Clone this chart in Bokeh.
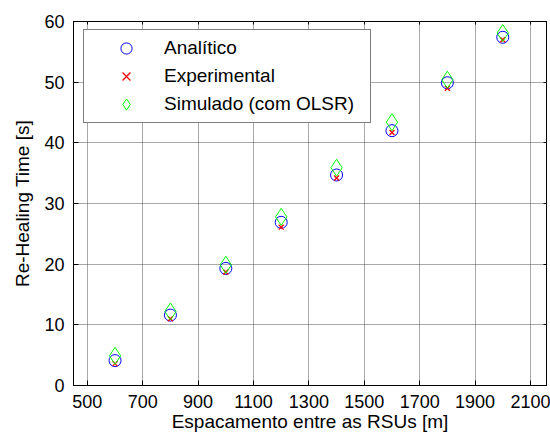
from bokeh.plotting import figure
from bokeh.models import (ColumnDataSource, FixedTicker, LinearAxis, Legend,
                          LegendItem, Range1d)
from bokeh.embed import file_html
from bokeh.resources import INLINE

# Data
spacing = [600, 800, 1000, 1200, 1400, 1600, 1800, 2000]
analitico = [4.1, 11.6, 19.3, 26.9, 34.7, 42.0, 49.9, 57.4]
experimental = [3.6, 11.0, 18.7, 26.1, 34.2, 41.7, 49.0, 57.0]
simulado = [4.9, 12.2, 19.9, 27.8, 35.9, 43.4, 50.4, 58.1]
x_ticks = [500, 700, 900, 1100, 1300, 1500, 1700, 1900, 2100]
y_ticks = [0, 10, 20, 30, 40, 50, 60]
labels = ["Analítico", "Experimental", "Simulado (com OLSR)"]
x_title = "Espacamento entre as RSUs [m]"
y_title = "Re-Healing Time [s]"

FONT = "Liberation Sans"

p = figure(width=550, height=437, output_backend="svg", toolbar_location=None,
           x_range=Range1d(450, 2158), y_range=Range1d(0, 60),
           min_border_left=73, min_border_right=4, min_border_top=21,
           min_border_bottom=52, x_axis_label=x_title, y_axis_label=y_title)
p.background_fill_color = "white"
p.border_fill_color = "white"
p.outline_line_color = "black"
p.outline_line_width = 1

for ax, ticks in ((p.xaxis[0], x_ticks), (p.yaxis[0], y_ticks)):
    ax.ticker = FixedTicker(ticks=ticks)
    ax.axis_line_color = "black"
    ax.major_tick_line_color = "black"
    ax.major_tick_in = 5
    ax.major_tick_out = 0
    ax.minor_tick_line_color = None
    ax.major_label_text_font = FONT
    ax.major_label_text_font_size = "18px"
    ax.major_label_text_color = "black"
    ax.axis_label_text_font = FONT
    ax.axis_label_text_font_size = "19px"
    ax.axis_label_text_font_style = "normal"
    ax.axis_label_text_color = "black"

p.yaxis[0].major_label_standoff = 9
p.yaxis[0].axis_label_standoff = 8
p.xaxis[0].major_label_standoff = 9
p.xaxis[0].axis_label_standoff = 0

# mirrored axes (top, right) with short inward ticks and no labels
for loc, ticks in (("right", y_ticks), ("above", x_ticks)):
    ax = LinearAxis(ticker=FixedTicker(ticks=ticks))
    ax.axis_line_color = "black"
    ax.major_tick_in = 3
    ax.major_tick_out = 0
    ax.minor_tick_line_color = None
    ax.major_label_text_font_size = "0px"
    ax.major_label_standoff = 0
    ax.major_label_text_color = None
    p.add_layout(ax, loc)

for g in (p.xgrid[0], p.ygrid[0]):
    g.ticker = FixedTicker(ticks=x_ticks if g is p.xgrid[0] else y_ticks)
    g.grid_line_color = "#505050"
    g.grid_line_dash = "1 1"
    g.grid_line_width = 1

src = ColumnDataSource(dict(x=spacing, a=analitico, e=experimental, s=simulado))

r_a = p.scatter("x", "a", source=src, marker="circle", size=12,
                line_color="#0000ff", fill_color=None, line_width=1)
r_e = p.scatter("x", "e", source=src, marker="x", size=7,
                line_color="#ff0000", line_width=1.3)
r_s = p.scatter("x", "s", source=src, marker="diamond", size=17,
                line_color="#00ff00", fill_color=None, line_width=1)

legend = Legend(items=[LegendItem(label=labels[0], renderers=[r_a]),
                       LegendItem(label=labels[1], renderers=[r_e]),
                       LegendItem(label=labels[2], renderers=[r_s])],
                location=(10, 262))
legend.label_text_font = FONT
legend.label_text_font_size = "19px"
legend.label_text_color = "black"
legend.border_line_color = "black"
legend.border_line_width = 1
legend.background_fill_color = "white"
legend.background_fill_alpha = 1
legend.padding = 4
legend.margin = 0
legend.spacing = 0
legend.glyph_width = 76
legend.glyph_height = 28
legend.label_height = 28
legend.label_standoff = 0
legend.label_width = 202
p.add_layout(legend, "center")

open("out.html", "w").write(file_html(p, INLINE))
